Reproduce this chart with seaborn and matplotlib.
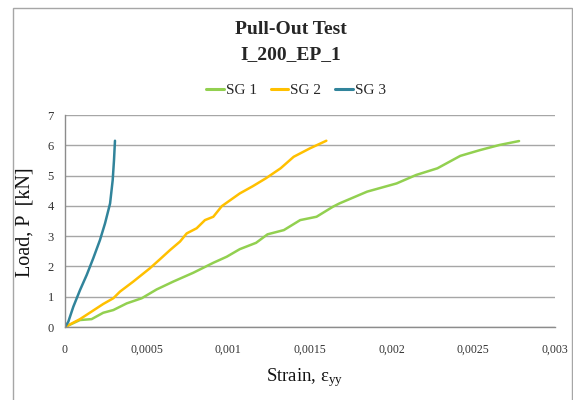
import numpy as np
import pandas as pd
import matplotlib
matplotlib.use("Agg")
import matplotlib.pyplot as plt
import seaborn as sns
from matplotlib.patches import Rectangle

# ---- data ----
sg1_strain = [0, 0.0000918, 0.000163, 0.000234, 0.000296, 0.000378, 0.00047, 0.000561, 0.000663,
              0.000785, 0.000908, 0.00099, 0.00107, 0.00117, 0.00124, 0.00134, 0.00144, 0.00154,
              0.00164, 0.00168, 0.00185, 0.00203, 0.00215, 0.00228, 0.00242, 0.00254, 0.00266, 0.00278]
sg1_load = [0, 0.23, 0.26, 0.47, 0.56, 0.78, 0.95, 1.24, 1.50,
            1.79, 2.12, 2.32, 2.57, 2.78, 3.06, 3.20, 3.53, 3.64,
            3.97, 4.08, 4.47, 4.74, 5.02, 5.24, 5.65, 5.84, 6.01, 6.14]

sg2_strain = [0, 0.0000918, 0.000163, 0.000234, 0.000296, 0.000337, 0.000418, 0.00052, 0.000582,
              0.000643, 0.000704, 0.000745, 0.000806, 0.000857, 0.000908, 0.00096, 0.00107, 0.00115,
              0.00123, 0.00132, 0.0014, 0.0015, 0.0016]
sg2_load = [0, 0.26, 0.51, 0.76, 0.95, 1.17, 1.50, 1.94, 2.24,
            2.54, 2.82, 3.09, 3.26, 3.53, 3.64, 3.99, 4.41, 4.65,
            4.91, 5.24, 5.62, 5.90, 6.15]

sg3_strain = [0, 0.00002, 0.000051, 0.000092, 0.000133, 0.000173, 0.000214, 0.000245, 0.000276,
              0.000292, 0.0003, 0.000306]
sg3_load = [0, 0.17, 0.67, 1.22, 1.72, 2.27, 2.87, 3.42, 4.08,
            4.85, 5.51, 6.15]

series_names = ["SG 1", "SG 2", "SG 3"]
series_colors = ["#92D050", "#FFC000", "#31849B"]
x_ticks = [0, 0.0005, 0.001, 0.0015, 0.002, 0.0025, 0.003]
x_tick_labels = ["0", "0,0005", "0,001", "0,0015", "0,002", "0,0025", "0,003"]
y_ticks = [0, 1, 2, 3, 4, 5, 6, 7]

frames = []
for name, xs, ys in zip(series_names, [sg1_strain, sg2_strain, sg3_strain],
                        [sg1_load, sg2_load, sg3_load]):
    frames.append(pd.DataFrame({"strain": xs, "load": ys, "series": name}))
df = pd.concat(frames, ignore_index=True)

sns.set_style("white")
plt.rcParams["font.family"] = ["Liberation Serif", "DejaVu Serif"]
plt.rcParams["mathtext.fontset"] = "custom"
plt.rcParams["mathtext.rm"] = "Liberation Serif"
plt.rcParams["mathtext.it"] = "Liberation Serif"

fig = plt.figure(figsize=(5.73, 4.0), dpi=100)
ax = fig.add_axes([65/573, 1-327/400, 490/573, 212/400])

sns.lineplot(data=df, x="strain", y="load", hue="series", palette=series_colors,
             hue_order=series_names, sort=False, estimator=None, units="series",
             linewidth=1.8, ax=ax, legend=False)

ax.set_xlim(0, 0.003)
ax.set_ylim(0, 7)
ax.set_xticks(x_ticks)
ax.set_xticklabels(x_tick_labels)
ax.set_yticks(y_ticks)
ax.tick_params(axis="x", length=0, pad=12, labelsize=8.5, colors="#333333")
ax.tick_params(axis="y", length=0, pad=8, labelsize=9, colors="#333333")
ax.yaxis.grid(True, color="#A6A6A6", linewidth=1)
ax.xaxis.grid(False)
for s in ["top", "right"]:
    ax.spines[s].set_visible(False)
for s in ["left", "bottom"]:
    ax.spines[s].set_color("#8C8C8C")
    ax.spines[s].set_linewidth(1)

ax.set_ylabel("Load, P  [kN]", fontsize=14.5, color="#111111")
ax.yaxis.set_label_coords(-0.062, 0.495)
ax.set_xlabel(r"Strain, $\mathrm{ε_{yy}}$", fontsize=13.5, color="#111111")
ax.xaxis.set_label_coords(0.49, -0.185)

fig.text(291/573, 1-30/400, "Pull-Out Test", ha="center", va="center",
         fontsize=14, fontweight="bold")
fig.text(291/573, 1-55/400, "I_200_EP_1", ha="center", va="center",
         fontsize=14, fontweight="bold")

handles = [plt.Line2D([], [], color=c, linewidth=2.2) for c in series_colors]
fig.legend(handles, series_names, loc="center", bbox_to_anchor=(296/573, 1-90/400),
           ncol=3, frameon=False, fontsize=11, handlelength=1.15,
           handletextpad=0.15, columnspacing=0.9)

fig.patches.append(Rectangle((13/573, -0.02), 559/573, 1-8/400+0.02, transform=fig.transFigure,
                             fill=False, edgecolor="#A6A6A6", linewidth=1))

fig.savefig("out.png", dpi=100)
